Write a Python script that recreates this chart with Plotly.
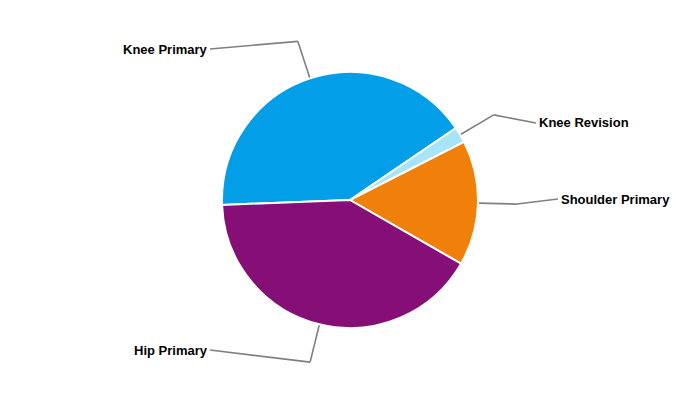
import math
import plotly.graph_objects as go

# ---- data ----
labels = ["Knee Primary", "Knee Revision", "Shoulder Primary", "Hip Primary"]
values = [41.1, 2.0, 15.8, 41.1]
colors = ["#029fe8", "#a6e5f9", "#f0800a", "#850e77"]

# ---- layout constants (screen pixels) ----
W, H = 700, 400
PAGE_OFF = 8               # default body margin of the html page
CX, CY, R = 350, 200, 128
START_DEG = 182.2          # math angle where first slice starts (clockwise direction)
ELBOW_R = 167
label_x = [210, 536, 558, 210]   # connector end points
label_y = [49, 123, 199, 350]

def px(x, y):
    return (x - PAGE_OFF) / W, 1 - (y - PAGE_OFF) / H

_, dy1 = px(0, CY - R)
_, dy0 = px(0, CY + R)
half = min(CX - PAGE_OFF, W - (CX - PAGE_OFF)) / W
cxf = (CX - PAGE_OFF) / W

fig = go.Figure(go.Pie(
    labels=labels, values=values, sort=False, direction="clockwise",
    rotation=90 - START_DEG,
    marker=dict(colors=colors, line=dict(color="white", width=2)),
    textinfo="none", hoverinfo="label+percent", showlegend=False,
    domain=dict(x=[cxf - half, cxf + half], y=[dy0, dy1]),
))

total = sum(values)
acc = 0.0
shapes, annots = [], []
for lab, v, lx, ly in zip(labels, values, label_x, label_y):
    mid = math.radians(START_DEG - 360 * (acc + v / 2) / total)
    acc += v
    dx, dy = math.cos(mid), -math.sin(mid)
    p0 = (CX + (R + 1) * dx, CY + (R + 1) * dy)
    p1 = (CX + ELBOW_R * dx, CY + ELBOW_R * dy)
    right = dx >= 0
    p2 = (lx, ly)
    for a, b in ((p0, p1), (p1, p2)):
        x0, y0 = px(*a)
        x1, y1 = px(*b)
        shapes.append(dict(type="line", xref="paper", yref="paper",
                           x0=x0, y0=y0, x1=x1, y1=y1,
                           line=dict(color="#808080", width=1.6)))
    tx, ty = px(lx + (3 if right else -2), ly)
    annots.append(dict(text=f"<b>{lab}</b>", x=tx, y=ty, xref="paper", yref="paper",
                       xanchor="left" if right else "right", yanchor="middle",
                       showarrow=False, borderpad=0, borderwidth=0,
                       font=dict(family="Liberation Sans, Arial, sans-serif", size=13, color="#000000")))

fig.update_layout(width=W, height=H, margin=dict(l=0, r=0, t=0, b=0),
                  paper_bgcolor="white", plot_bgcolor="white",
                  shapes=shapes, annotations=annots)
fig.write_html("out.html")
